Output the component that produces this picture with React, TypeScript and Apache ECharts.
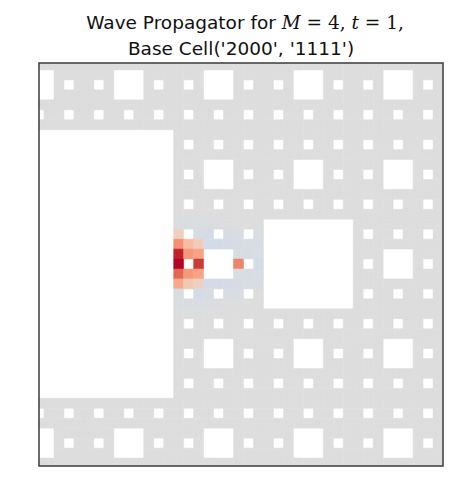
import React, { useEffect, useRef } from "react";
import * as echarts from "echarts";

// Carpet level and base cell (from title)
const M = 4;
const BASE_CELL = ["2000", "1111"];

// Visible window (cell index units)
const COL_RANGE = [40.5, 81];
const ROW_RANGE = [20.3, 60.8];

// Non-zero propagator values near the base cell: [col, row, value]
const WAVE_CELLS: [number, number, number][] = [
  [54, 37, 0.15], [54, 38, 0.55], [54, 39, 0.95], [54, 40, 1.0], [54, 41, 0.72], [54, 42, 0.42], [54, 43, -0.03],
  [55, 38, 0.3], [55, 39, 0.5], [55, 41, 0.5], [55, 42, 0.22],
  [56, 38, 0.2], [56, 39, 0.45], [56, 40, 0.88], [56, 41, 0.45], [56, 42, 0.15],
  [60, 40, 0.6],
  [55, 37, -0.05], [56, 37, -0.05], [57, 37, -0.06], [58, 37, -0.05], [59, 37, -0.05], [60, 37, -0.04], [61, 37, -0.03], [62, 37, -0.03],
  [57, 38, -0.07], [58, 38, -0.07], [59, 38, -0.06], [60, 38, -0.05], [61, 38, -0.04], [62, 38, -0.03],
  [60, 39, -0.03], [61, 39, -0.05], [62, 39, -0.04],
  [62, 40, -0.06],
  [60, 41, -0.03], [61, 41, -0.05], [62, 41, -0.04],
  [57, 42, -0.07], [58, 42, -0.07], [59, 42, -0.06], [60, 42, -0.05], [61, 42, -0.04], [62, 42, -0.03],
  [56, 43, -0.06], [57, 43, -0.05], [58, 43, -0.05], [59, 43, -0.04], [60, 43, -0.03],
  [54, 36, -0.03], [55, 36, -0.03], [56, 36, -0.03], [57, 36, -0.02], [58, 36, -0.02],
  [54, 44, -0.03], [55, 44, -0.03], [56, 44, -0.03], [57, 44, -0.02], [58, 44, -0.02],
];

// matplotlib "coolwarm" colour stops
const COOLWARM = [
  "#3b4cc0", "#445acc", "#4d68d7", "#5775e1", "#6282ea", "#6c8ef1", "#779af7", "#82a5fb",
  "#8db0fe", "#98b9ff", "#a3c2ff", "#aec9fd", "#b8d0f9", "#c2d5f4", "#ccd9ee", "#d5dbe6",
  "#dddddd", "#e5d8d1", "#ecd3c5", "#f1ccb9", "#f5c4ad", "#f7bba0", "#f7b194", "#f7a687",
  "#f49a7b", "#f18d6f", "#ec7f63", "#e57058", "#de604d", "#d55042", "#cb3e38", "#c0282f",
  "#b40426",
];

function isHole(c: number, r: number): boolean {
  let p = 1;
  for (let k = 0; k < M; k++) {
    if (Math.floor(c / p) % 3 === 1 && Math.floor(r / p) % 3 === 1) return true;
    p *= 3;
  }
  return false;
}

function buildData() {
  const lookup = new Map<string, number>();
  WAVE_CELLS.forEach(([c, r, v]) => lookup.set(c + "," + r, v));
  const out: number[][] = [];
  const n = Math.pow(3, M);
  for (let c = Math.floor(COL_RANGE[0]); c < Math.min(n, Math.ceil(COL_RANGE[1])); c++) {
    for (let r = Math.floor(ROW_RANGE[0]); r < Math.min(n, Math.ceil(ROW_RANGE[1])); r++) {
      if (isHole(c, r)) continue;
      out.push([c, r, lookup.get(c + "," + r) ?? 0]);
    }
  }
  return out;
}

export default function App() {
  const ref = useRef<HTMLDivElement>(null);
  useEffect(() => {
    document.body.style.margin = "0";
    if (!ref.current) return;
    const chart = echarts.init(ref.current, undefined, { renderer: "svg" });
    const left = 39, top = 63, w = 404, h = 403;
    chart.setOption({
      animation: false,
      backgroundColor: "#ffffff",
      grid: { left, top, width: w, height: h, show: false },
      xAxis: { type: "value", min: COL_RANGE[0], max: COL_RANGE[1], show: false },
      yAxis: { type: "value", min: ROW_RANGE[0], max: ROW_RANGE[1], inverse: true, show: false },
      visualMap: {
        type: "continuous", show: false, min: -1, max: 1, dimension: 2, seriesIndex: 0,
        inRange: { color: COOLWARM },
      },
      series: [
        {
          type: "custom",
          data: buildData(),
          renderItem: (params: any, api: any) => {
            const c = api.value(0), r = api.value(1);
            const p0 = api.coord([c, r]);
            const p1 = api.coord([c + 1, r + 1]);
            const rect = echarts.graphic.clipRectByRect(
              { x: Math.min(p0[0], p1[0]), y: Math.min(p0[1], p1[1]), width: Math.abs(p1[0] - p0[0]), height: Math.abs(p1[1] - p0[1]) },
              { x: params.coordSys.x, y: params.coordSys.y, width: params.coordSys.width, height: params.coordSys.height }
            );
            if (!rect) return null;
            const col = api.visual("color");
            return { type: "rect", shape: rect, style: { fill: col, stroke: col, lineWidth: 0.5 } };
          },
        },
      ],
      graphic: [
        {
          type: "rect", z: 100, silent: true,
          shape: { x: left, y: top, width: w, height: h },
          style: { fill: "none", stroke: "#3c3c3c", lineWidth: 1.5 },
        },
        {
          type: "text", x: 245, y: 22, z: 100,
          style: {
            text: "Wave Propagator for {m|M} {r|= 4,} {m|t} {r|= 1,}",
            fontFamily: "DejaVu Sans", fontSize: 18.5, fill: "#111",
            textAlign: "center", textVerticalAlign: "middle",
            rich: {
              m: { fontFamily: "DejaVu Serif", fontStyle: "italic", fontSize: 18.5, fill: "#111" },
              r: { fontFamily: "DejaVu Serif", fontSize: 18.5, fill: "#111" },
            },
          },
        },
        {
          type: "text", x: 241, y: 48, z: 100,
          style: {
            text: "Base Cell('" + BASE_CELL[0] + "', '" + BASE_CELL[1] + "')",
            fontFamily: "DejaVu Sans", fontSize: 18.5, fill: "#111",
            textAlign: "center", textVerticalAlign: "middle",
          },
        },
      ],
    });
    return () => chart.dispose();
  }, []);
  return <div ref={ref} style={{ width: 471, height: 497 }} />;
}
